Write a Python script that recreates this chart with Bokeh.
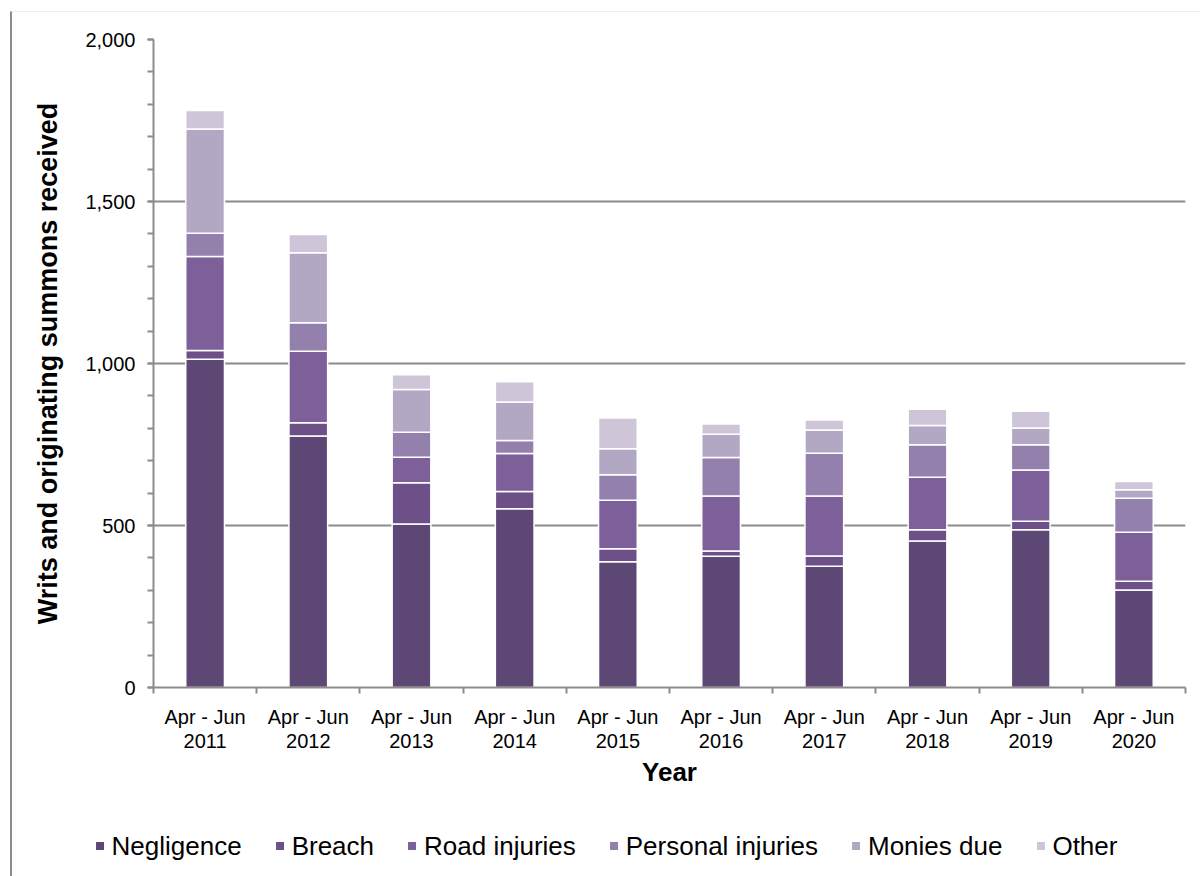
import numpy as np
from bokeh.plotting import figure
from bokeh.layouts import column
from bokeh.models import (Range1d, FixedTicker, SingleIntervalTicker, NumeralTickFormatter,
                          CustomJSTickFormatter, Legend, LegendItem, ColumnDataSource)
from bokeh.embed import file_html
from bokeh.resources import INLINE

years = ["2011", "2012", "2013", "2014", "2015", "2016", "2017", "2018", "2019", "2020"]
period = "Apr - Jun"
series_names = ["Negligence", "Breach", "Road injuries", "Personal injuries", "Monies due", "Other"]
negligence = [1013, 776, 505, 552, 388, 405, 374, 452, 487, 301]
breach = [27, 41, 127, 53, 40, 16, 32, 35, 26, 27]
road_injuries = [290, 221, 79, 117, 150, 170, 185, 162, 158, 151]
personal_injuries = [72, 88, 77, 40, 79, 119, 132, 100, 78, 105]
monies_due = [322, 216, 132, 119, 80, 72, 72, 60, 52, 26]
other = [57, 56, 45, 63, 95, 31, 31, 50, 52, 26]

colors = ["#5c4775", "#6e5089", "#7d5f99", "#9480ad", "#b2a8c4", "#cec6d8"]

n = len(years)
x = list(np.arange(n) + 0.5)
keys = ["neg", "bre", "road", "pers", "mon", "oth"]
source = ColumnDataSource(dict(x=x, neg=negligence, bre=breach, road=road_injuries,
                               pers=personal_injuries, mon=monies_due, oth=other))

FONT = "Liberation Sans"

p = figure(frame_width=1032, frame_height=648, x_range=Range1d(0, n), y_range=Range1d(0, 2000),
           output_backend="svg", toolbar_location=None,
           min_border_left=141, min_border_right=15, min_border_top=27, min_border_bottom=128)
p.outline_line_color = None
p.background_fill_color = "white"
p.border_fill_color = "white"

renderers = p.vbar_stack(keys, x="x", width=0.375, source=source, color=colors,
                         line_color="white", line_width=1.5)

# y axis
yax = p.yaxis[0]
yax.ticker = SingleIntervalTicker(interval=500, num_minor_ticks=5)
yax.formatter = NumeralTickFormatter(format="0,0")
yax.axis_line_color = "#8c8c8c"
yax.axis_line_width = 2
yax.major_tick_line_color = "#8c8c8c"
yax.minor_tick_line_color = "#8c8c8c"
yax.major_tick_line_width = 2
yax.minor_tick_line_width = 2
yax.major_tick_in = 0
yax.major_tick_out = 6
yax.minor_tick_in = 0
yax.minor_tick_out = 6
yax.major_label_standoff = 12
yax.major_label_text_font = FONT
yax.major_label_text_font_size = "20px"
yax.major_label_text_color = "black"
yax.axis_label = "Writs and originating summons received"
yax.axis_label_text_font = FONT
yax.axis_label_text_font_style = "bold"
yax.axis_label_text_font_size = "27px"
yax.axis_label_text_color = "black"
yax.axis_label_standoff = 19

# x axis
xax = p.xaxis[0]
xax.ticker = FixedTicker(ticks=x, minor_ticks=list(range(n + 1)))
xax.formatter = CustomJSTickFormatter(args=dict(years=years, period=period),
                                      code="return period + '\\n' + years[Math.floor(tick)];")
xax.axis_line_color = "#8c8c8c"
xax.axis_line_width = 2
xax.major_tick_line_color = None
xax.major_tick_in = 0
xax.major_tick_out = 0
xax.minor_tick_line_color = "#8c8c8c"
xax.minor_tick_line_width = 2
xax.minor_tick_in = 0
xax.minor_tick_out = 6
xax.major_label_standoff = 12
xax.major_label_text_font = FONT
xax.major_label_text_font_size = "20px"
xax.major_label_text_color = "black"
xax.major_label_text_line_height = 1.1
xax.axis_label = "Year"
xax.axis_label_text_font = FONT
xax.axis_label_text_font_style = "bold"
xax.axis_label_text_font_size = "26px"
xax.axis_label_text_color = "black"
xax.axis_label_standoff = 2

# grid
p.xgrid.grid_line_color = None
p.ygrid.ticker = SingleIntervalTicker(interval=500)
p.ygrid.grid_line_color = "#8c8c8c"
p.ygrid.grid_line_width = 2

# legend strip (separate figure so the legend sits in its own frame)
p2 = figure(width=1188, height=61, x_range=Range1d(-20, -19), y_range=Range1d(0, 1),
            output_backend="svg", toolbar_location=None,
            x_axis_location=None, y_axis_location=None,
            min_border=0, min_border_left=0, min_border_right=0, min_border_top=0, min_border_bottom=0)
p2.grid.visible = False
p2.outline_line_color = None
p2.background_fill_color = "white"
p2.border_fill_color = "white"
leg_renderers = p2.vbar_stack(keys, x="x", width=0.375, source=source, color=colors,
                              line_color=None)

legend = Legend(items=[LegendItem(label=nm, renderers=[r]) for nm, r in zip(series_names, leg_renderers)],
                orientation="horizontal", location="center")
legend.label_text_font = FONT
legend.label_text_font_size = "26px"
legend.label_text_color = "black"
legend.glyph_width = 10
legend.glyph_height = 10
legend.label_standoff = 7
legend.spacing = 33
legend.border_line_color = None
legend.background_fill_alpha = 0
legend.padding = 0
legend.margin = 0
p2.add_layout(legend, "center")

layout = column(p, column(p2), spacing=0)
layout.styles = {"margin-left": "10px", "margin-top": "11px",
                 "border-left": "2px solid #8c8c8c", "border-top": "1px solid #ececec"}

open("out.html", "w").write(file_html(layout, INLINE))
